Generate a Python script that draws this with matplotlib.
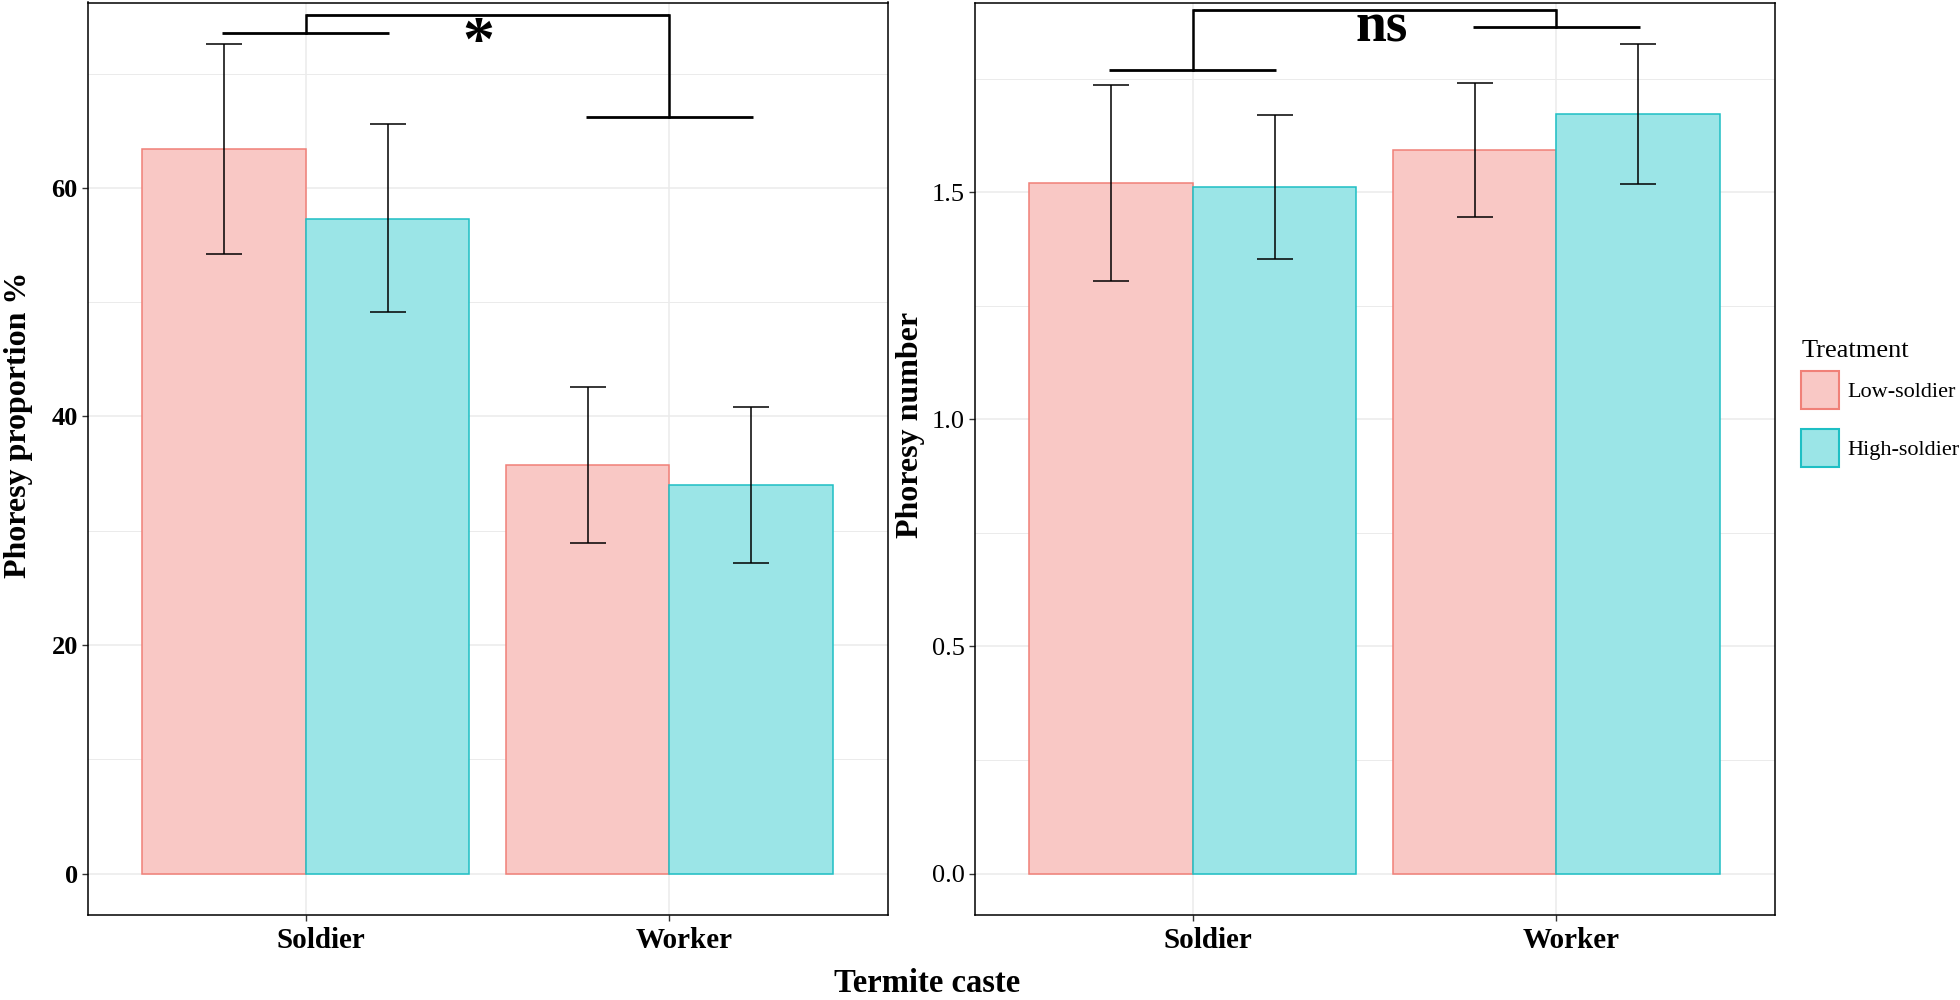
import matplotlib
matplotlib.use('Agg')
import matplotlib.pyplot as plt
from matplotlib.patches import Patch
from matplotlib.transforms import ScaledTranslation

plt.rcParams['font.family'] = ['Liberation Serif', 'DejaVu Serif']

# ---------------- data ----------------
castes = ['Soldier', 'Worker']
treatments = ['Low-soldier', 'High-soldier']

prop_low = [63.4, 35.75]
prop_low_lo = [54.2, 28.9]
prop_low_hi = [72.6, 42.6]
prop_high = [57.3, 34.0]
prop_high_lo = [49.1, 27.2]
prop_high_hi = [65.6, 40.85]

num_low = [1.5205, 1.594]
num_low_lo = [1.305, 1.447]
num_low_hi = [1.7365, 1.740]
num_high = [1.512, 1.6726]
num_high_lo = [1.353, 1.5196]
num_high_hi = [1.671, 1.827]

# significance brackets: [top, soldier-group level, worker-group level]
prop_bracket = [75.15, 73.6, 66.2]
num_bracket = [1.902, 1.769, 1.8636]
prop_sig = '*'
num_sig = 'ns'

prop_yticks = [0, 20, 40, 60]
prop_yminor = [10, 30, 50, 70]
num_yticks = [0.0, 0.5, 1.0, 1.5]
num_yminor = [0.25, 0.75, 1.25, 1.75]
num_ytick_labels = ['0.0', '0.5', '1.0', '1.5']

fill_cols = ['#F9C8C5', '#9BE5E7']
edge_cols = ['#F08078', '#1EBFC4']
grid_col = '#EBEBEB'

fig = plt.figure(figsize=(19.6, 10), dpi=100)
axL = fig.add_axes([87.5 / 1960, 0.085, 800 / 1960, 0.9125])
axR = fig.add_axes([974.5 / 1960, 0.085, 800 / 1960, 0.9125])

xpos = [1, 2]
w = 0.45


def draw_panel(ax, low, low_lo, low_hi, high, high_lo, high_hi, bracket, sig,
               yticks, yminor, ylabels, ybold, sig_x, sig_y, sig_size):
    ax.set_axisbelow(True)
    means = [low, high]
    los = [low_lo, high_lo]
    his = [low_hi, high_hi]
    for k in range(2):
        xs = [x + (k - 0.5) * w for x in xpos]
        ax.bar(xs, means[k], width=w, color=fill_cols[k], edgecolor=edge_cols[k],
               linewidth=1.1, zorder=2)
        yerr = [[m - l for m, l in zip(means[k], los[k])],
                [h - m for m, h in zip(means[k], his[k])]]
        ax.errorbar(xs, means[k], yerr=yerr, fmt='none', ecolor='black',
                    elinewidth=1.1, capsize=13, capthick=1.1, zorder=3)
    ymax = max(max(low_hi), max(high_hi))
    ax.set_ylim(-0.05 * ymax, 1.05 * ymax)
    ax.set_xlim(0.4, 2.6)
    # brackets
    top, lvl1, lvl2 = bracket
    hw = 0.23
    ax.plot([1, 2], [top, top], color='black', lw=2.0, solid_capstyle='butt', zorder=4)
    ax.plot([1, 1], [top, lvl1], color='black', lw=1.8, zorder=4)
    ax.plot([2, 2], [top, lvl2], color='black', lw=1.8, zorder=4)
    ax.plot([1 - hw, 1 + hw], [lvl1, lvl1], color='black', lw=2.0, solid_capstyle='butt', zorder=4)
    ax.plot([2 - hw, 2 + hw], [lvl2, lvl2], color='black', lw=2.0, solid_capstyle='butt', zorder=4)
    ax.text(sig_x, sig_y, sig, ha='center', va='baseline', fontsize=sig_size,
            fontweight='bold', zorder=5)
    # ticks & grid
    ax.set_xticks(xpos)
    ax.set_xticklabels(castes, fontsize=21, fontweight='bold')
    ax.set_yticks(yticks)
    ax.set_yticklabels(ylabels, fontsize=19, fontweight='bold' if ybold else 'normal')
    ax.set_yticks(yminor, minor=True)
    ax.tick_params(axis='y', which='minor', length=0)
    ax.tick_params(axis='both', which='major', length=4, width=1.0, color='#333333',
                   direction='out')
    ax.tick_params(axis='x', pad=5)
    ax.tick_params(axis='y', pad=3)
    ax.grid(True, which='major', color=grid_col, lw=1.1)
    ax.grid(True, which='minor', axis='y', color=grid_col, lw=0.7)
    for s in ax.spines.values():
        s.set_color('black')
        s.set_linewidth(1.1)
    # the reference's category labels sit slightly right of their ticks
    shift = ScaledTranslation(15 / 100, 0, fig.dpi_scale_trans)
    for lab in ax.get_xticklabels():
        lab.set_transform(lab.get_transform() + shift)


draw_panel(axL, prop_low, prop_low_lo, prop_low_hi, prop_high, prop_high_lo, prop_high_hi,
           prop_bracket, prop_sig, prop_yticks, prop_yminor, [str(t) for t in prop_yticks],
           True, 1.474, 71.2, 46)
draw_panel(axR, num_low, num_low_lo, num_low_hi, num_high, num_high_lo, num_high_hi,
           num_bracket, num_sig, num_yticks, num_yminor, num_ytick_labels,
           False, 1.519, 1.8327, 40)

fig.text(19 / 1960, 0.575, 'Phoresy proportion %', rotation=90, ha='center', va='center',
         fontsize=23, fontweight='bold')
fig.text(910 / 1960, 0.575, 'Phoresy number', rotation=90, ha='center', va='center',
         fontsize=23, fontweight='bold')
fig.text(927 / 1960, 0.017, 'Termite caste', ha='center', va='center',
         fontsize=23.5, fontweight='bold')

# legend
fig.text(1801.7 / 1960, 1 - 357.3 / 1000, 'Treatment', ha='left', va='baseline',
         fontsize=19)
handles = [Patch(facecolor=fill_cols[k], edgecolor=edge_cols[k], linewidth=1.5)
           for k in range(2)]
leg = fig.legend(handles, treatments, loc='upper left',
                 bbox_to_anchor=(1800.7 / 1960, 1 - 371 / 1000), frameon=False,
                 fontsize=16, handlelength=1.71, handleheight=2.256, labelspacing=0.9,
                 handletextpad=0.39, borderpad=0, borderaxespad=0)

fig.savefig('out.png', dpi=100)
